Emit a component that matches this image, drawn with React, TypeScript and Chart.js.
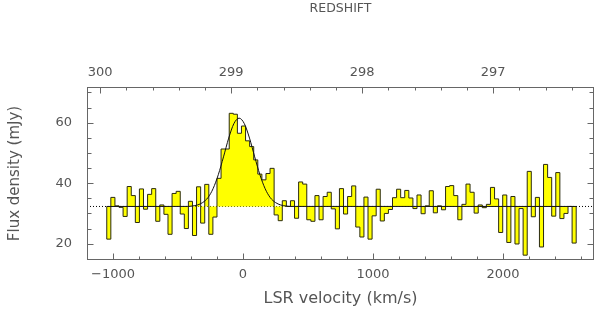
import React, { useEffect, useRef } from 'react';
import { Chart, registerables } from 'chart.js';

Chart.register(...registerables);

// Spectral channels (LSR velocity, km/s)
const VEL_START = -1048;
const CHANNEL_WIDTH = 31.4;
const BASELINE = 32.3;

// Flux density per channel (mJy)
const fluxValues = [
  21.5, 35.3, 32.5, 32.0, 29.0, 38.9, 35.9, 27.0, 38.1, 31.4,
  36.3, 38.2, 27.4, 32.8, 29.7, 23.1, 36.6, 37.3, 29.8, 25.0,
  34.0, 22.7, 38.8, 26.8, 39.6, 23.1, 28.8, 41.6, 51.3, 51.3,
  63.1, 62.8, 56.5, 58.9, 54.0, 52.1, 47.7, 43.0, 41.1, 43.2,
  44.9, 29.5, 27.6, 34.2, 32.3, 34.2, 28.4, 40.4, 39.7, 27.9,
  27.4, 35.9, 27.9, 35.6, 37.0, 31.5, 24.9, 38.2, 29.8, 35.6,
  39.1, 25.5, 22.2, 35.4, 21.5, 29.2, 38.0, 27.5, 30.0, 31.3,
  35.2, 38.0, 35.2, 37.6, 35.1, 31.6, 36.1, 29.9, 32.5, 37.5,
  30.2, 32.5, 31.2, 38.9, 39.2, 35.9, 27.9, 33.0, 39.7, 37.0,
  30.1, 32.8, 31.9, 33.0, 38.6, 34.8, 23.7, 36.1, 20.4, 35.6,
  19.9, 31.6, 16.2, 43.9, 28.9, 35.3, 18.9, 46.2, 41.9, 29.1,
  43.5, 28.3, 30.0, 32.3, 20.2,
];

// Gaussian fit curve
const fitVelocities = [-1048, -430, -390, -350, -310, -270, -230, -190, -150, -110, -70, -30, 10, 50, 90, 130, 170, 210, 250, 290, 330, 370, 2563];
const fitValues = [32.3, 32.32, 32.45, 32.8, 33.6, 35.2, 38.2, 42.8, 48.7, 54.9, 59.7, 61.5, 59.7, 54.9, 48.7, 42.8, 38.2, 35.2, 33.6, 32.8, 32.45, 32.32, 32.3];

const velocityTicks = [-1000, 0, 1000, 2000];
const redshiftTicks = [300, 299, 298, 297];
const fluxTicks = [20, 40, 60];

const X_MIN = -1200;
const X_MAX = 2700;
const Y_MIN = 14.6;
const Y_MAX = 71.8;
const Z_MIN = 296.23;
const Z_MAX = 300.1;

const FONT = '"DejaVu Sans", "Liberation Sans", sans-serif';
const TEXT = '#555';
const FRAME = '#666';

const framePlugin = {
  id: 'frameTicks',
  afterDatasetsDraw(chart: any) {
    const { ctx, chartArea: a, scales } = chart;
    const L = Math.round(a.left) + 0.5;
    const R = Math.round(a.right) - 0.5;
    const T = Math.round(a.top) + 0.5;
    const B = Math.round(a.bottom) - 0.5;
    ctx.save();
    ctx.strokeStyle = FRAME;
    ctx.lineWidth = 1;
    ctx.setLineDash([]);
    ctx.strokeRect(L, T, R - L, B - T);
    ctx.beginPath();
    // bottom velocity ticks
    for (let v = X_MIN; v <= X_MAX; v += 200) {
      const px = Math.round(scales.x.getPixelForValue(v)) + 0.5;
      const len = v % 1000 === 0 ? 6 : 3;
      ctx.moveTo(px, B);
      ctx.lineTo(px, B - len);
    }
    // top redshift ticks
    for (let k = Math.ceil(Z_MIN * 5); k <= Math.floor(Z_MAX * 5); k++) {
      const z = k / 5;
      const px = Math.round(scales.x2.getPixelForValue(z)) + 0.5;
      const len = k % 5 === 0 ? 6 : 3;
      ctx.moveTo(px, T);
      ctx.lineTo(px, T + len);
    }
    // left and right flux ticks
    for (let f = 15; f <= 70; f += 5) {
      const py = Math.round(scales.y.getPixelForValue(f)) + 0.5;
      const len = f % 20 === 0 ? 6 : 4;
      ctx.moveTo(L, py);
      ctx.lineTo(L + len, py);
      ctx.moveTo(R, py);
      ctx.lineTo(R - len, py);
    }
    ctx.stroke();
    ctx.restore();
  },
};

export default function App() {
  const ref = useRef<HTMLCanvasElement>(null);

  useEffect(() => {
    if (!ref.current) return;
    const n = fluxValues.length;
    const histData: { x: number; y: number }[] = [{ x: VEL_START, y: BASELINE }];
    fluxValues.forEach((f, i) => histData.push({ x: VEL_START + i * CHANNEL_WIDTH, y: f }));
    histData.push({ x: VEL_START + n * CHANNEL_WIDTH, y: BASELINE });

    const fitData = fitVelocities.map((x, i) => ({ x, y: fitValues[i] }));

    const chart = new Chart(ref.current, {
      type: 'line',
      data: {
        datasets: [
          {
            label: 'fit',
            data: fitData,
            borderColor: '#111',
            borderWidth: 1,
            pointRadius: 0,
            cubicInterpolationMode: 'monotone',
            fill: false,
            order: 0,
          } as any,
          {
            label: 'spectrum',
            data: histData,
            stepped: 'before',
            borderColor: '#2a2a10',
            borderWidth: 1,
            backgroundColor: '#ffff00',
            fill: { value: BASELINE },
            pointRadius: 0,
            order: 1,
          } as any,
          {
            label: 'baseline',
            data: [
              { x: X_MIN, y: BASELINE },
              { x: X_MAX, y: BASELINE },
            ],
            borderColor: '#000',
            borderWidth: 1,
            borderDash: [1, 2],
            pointRadius: 0,
            fill: false,
            order: 2,
          } as any,
        ],
      },
      options: {
        animation: false,
        responsive: false,
        devicePixelRatio: 1,
        layout: { padding: { left: 0, top: 0, right: 6, bottom: 0 } },
        plugins: {
          legend: { display: false },
          tooltip: { enabled: false },
        },
        scales: {
          x: {
            type: 'linear',
            position: 'bottom',
            min: X_MIN,
            max: X_MAX,
            afterBuildTicks: (s: any) => {
              s.ticks = velocityTicks.map((v) => ({ value: v }));
            },
            afterFit: (s: any) => {
              s.height = 63;
            },
            grid: { display: false, drawTicks: false },
            border: { display: false },
            ticks: {
              autoSkip: false,
              maxRotation: 0,
              padding: 7,
              color: TEXT,
              font: { family: FONT, size: 13 },
              callback: (v: any) => (v < 0 ? '\u2212' + Math.abs(v) : String(v)),
            },
            title: {
              display: true,
              text: 'LSR velocity (km/s)',
              color: TEXT,
              font: { family: FONT, size: 16 },
              padding: { top: 0, bottom: 15 },
            },
          },
          x2: {
            type: 'linear',
            position: 'top',
            reverse: true,
            min: Z_MIN,
            max: Z_MAX,
            afterBuildTicks: (s: any) => {
              s.ticks = redshiftTicks.map((v) => ({ value: v }));
            },
            afterFit: (s: any) => {
              s.height = 87;
            },
            grid: { display: false, drawTicks: false },
            border: { display: false },
            ticks: {
              autoSkip: false,
              maxRotation: 0,
              padding: 7,
              color: TEXT,
              font: { family: FONT, size: 13 },
              callback: (v: any) => String(v),
            },
            title: {
              display: true,
              text: 'REDSHIFT',
              color: TEXT,
              font: { family: FONT, size: 12.5 },
              padding: { top: 1.5, bottom: 0 },
            },
          },
          y: {
            type: 'linear',
            position: 'left',
            min: Y_MIN,
            max: Y_MAX,
            afterBuildTicks: (s: any) => {
              s.ticks = fluxTicks.map((v) => ({ value: v }));
            },
            afterFit: (s: any) => {
              s.width = 87;
            },
            grid: { display: false, drawTicks: false },
            border: { display: false },
            ticks: {
              padding: 15,
              color: TEXT,
              font: { family: FONT, size: 13 },
            },
            title: {
              display: true,
              text: 'Flux density (mJy)',
              color: TEXT,
              font: { family: FONT, size: 15 },
              padding: { top: 6, bottom: 0 },
            },
          },
        },
      } as any,
      plugins: [framePlugin],
    });
    return () => chart.destroy();
  }, []);

  return (
    <div style={{ position: 'absolute', left: 0, top: 0, width: 600, height: 323, background: '#fff' }}>
      <canvas ref={ref} width={600} height={323} style={{ display: 'block' }} />
    </div>
  );
}
